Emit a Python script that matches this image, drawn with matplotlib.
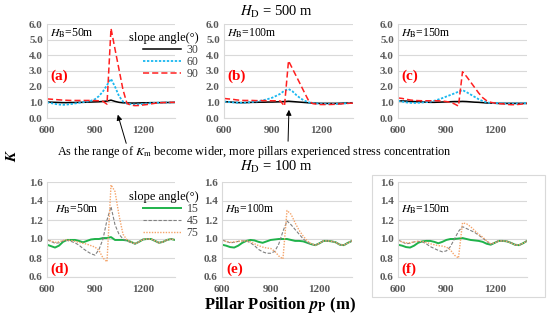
import matplotlib
matplotlib.use('Agg')
import matplotlib.pyplot as plt
from matplotlib.patches import Rectangle, FancyArrowPatch

plt.rcParams['font.family'] = ['Liberation Serif', 'DejaVu Serif']
plt.rcParams['mathtext.fontset'] = 'stix'

# pillar positions (m), one value every 25 m
positions = list(range(600, 1401, 25))

# H_D = 500 m, slope angles 30 / 60 / 90
a_30 = [1.02, 1.01, 1.0, 0.99, 0.98, 0.98, 0.99, 0.99, 1.0, 1.0, 1.01, 1.02, 1.03, 1.04, 1.06, 1.08, 1.14,
        1.06, 1.0, 0.97, 0.96, 0.95, 0.95, 0.96, 0.97, 0.97, 0.98, 0.98, 0.98, 0.99, 0.99, 0.99, 1.0]
a_60 = [1.0, 0.95, 0.9, 0.86, 0.84, 0.86, 0.89, 0.93, 0.97, 1.01, 1.05, 1.1, 1.2, 1.4, 1.7, 2.1, 2.5,
        2.0, 1.4, 1.05, 0.92, 0.88, 0.86, 0.87, 0.9, 0.92, 0.95, 0.97, 0.98, 0.98, 0.99, 0.99, 1.0]
a_90 = [1.22, 1.2, 1.18, 1.16, 1.14, 1.13, 1.12, 1.12, 1.12, 1.12, 1.12, 1.12, 1.11, 1.1, 1.06, 0.88, 5.72,
        4.4, 3.1, 1.8, 0.92, 0.82, 0.79, 0.8, 0.83, 0.86, 0.9, 0.94, 0.97, 0.98, 0.99, 1.0, 1.0]

b_30 = [1.05, 1.03, 1.01, 0.99, 0.98, 0.98, 0.99, 1.0, 1.0, 1.01, 1.01, 1.02, 1.02, 1.03, 1.04, 1.05, 1.07,
        1.05, 1.03, 1.01, 0.99, 0.97, 0.95, 0.94, 0.93, 0.93, 0.93, 0.93, 0.93, 0.94, 0.95, 0.96, 0.97]
b_60 = [1.05, 1.02, 1.0, 0.98, 0.97, 0.98, 0.99, 1.02, 1.05, 1.1, 1.15, 1.22, 1.3, 1.42, 1.55, 1.75, 1.85,
        1.7, 1.45, 1.25, 1.1, 1.0, 0.95, 0.93, 0.92, 0.91, 0.9, 0.9, 0.9, 0.91, 0.93, 0.95, 0.97]
b_90 = [1.25, 1.22, 1.2, 1.16, 1.13, 1.12, 1.12, 1.12, 1.11, 1.11, 1.11, 1.1, 1.1, 1.1, 1.08, 0.76, 3.65,
        3.14, 2.63, 2.12, 1.6, 1.1, 0.92, 0.88, 0.86, 0.86, 0.86, 0.87, 0.88, 0.9, 0.92, 0.94, 0.95]

c_30 = [1.1, 1.09, 1.08, 1.06, 1.05, 1.04, 1.03, 1.01, 1.0, 1.0, 1.01, 1.02, 1.03, 1.04, 1.05, 1.05, 1.06,
        1.05, 1.03, 1.01, 1.0, 0.98, 0.96, 0.95, 0.94, 0.93, 0.93, 0.93, 0.93, 0.93, 0.93, 0.93, 0.93]
c_60 = [1.1, 1.05, 1.0, 0.97, 0.96, 0.97, 0.99, 1.01, 1.04, 1.1, 1.18, 1.27, 1.37, 1.47, 1.57, 1.68, 1.78,
        1.65, 1.5, 1.35, 1.2, 1.08, 1.0, 0.96, 0.95, 0.94, 0.93, 0.93, 0.92, 0.92, 0.93, 0.94, 0.95]
c_90 = [1.28, 1.25, 1.2, 1.15, 1.12, 1.11, 1.1, 1.1, 1.1, 1.1, 1.1, 1.08, 1.05, 1.0, 0.9, 0.76, 2.95,
        2.65, 2.3, 1.95, 1.6, 1.3, 1.1, 1.0, 0.95, 0.92, 0.9, 0.87, 0.85, 0.85, 0.87, 0.9, 0.93]

# H_D = 100 m, slope angles 15 / 45 / 75
d_15 = [0.94, 0.925, 0.91, 0.93, 0.97, 0.99, 0.99, 0.99, 0.98, 0.965, 0.98, 0.995, 1.0, 1.0, 1.01, 1.01, 1.02,
        0.99, 0.99, 0.99, 0.985, 0.97, 0.95, 0.97, 0.995, 1.0, 1.0, 0.98, 0.96, 0.97, 0.99, 1.0, 0.99]
d_45 = [0.99, 0.975, 0.955, 0.96, 0.98, 0.985, 0.975, 0.96, 0.935, 0.9, 0.87, 0.845, 0.83, 0.89, 1.0, 1.2, 1.34,
        1.15, 1.05, 1.0, 0.98, 0.96, 0.95, 0.97, 0.995, 1.0, 1.0, 0.98, 0.96, 0.97, 0.99, 1.0, 0.99]
d_75 = [0.99, 0.98, 0.965, 0.97, 0.985, 0.99, 0.985, 0.975, 0.965, 0.955, 0.945, 0.93, 0.915, 0.88, 0.8, 0.76, 1.57,
        1.5, 1.25, 1.05, 0.99, 0.97, 0.95, 0.97, 0.995, 1.0, 1.0, 0.98, 0.96, 0.97, 0.99, 1.0, 0.99]

e_15 = [0.94, 0.93, 0.915, 0.91, 0.93, 0.96, 0.98, 0.99, 0.985, 0.97, 0.96, 0.975, 0.99, 0.995, 1.0, 1.0, 1.0,
        0.99, 0.98, 0.98, 0.975, 0.96, 0.945, 0.935, 0.955, 0.98, 0.98, 0.975, 0.965, 0.94, 0.935, 0.96, 0.98]
e_45 = [0.99, 0.975, 0.96, 0.965, 0.975, 0.98, 0.98, 0.96, 0.93, 0.89, 0.865, 0.85, 0.85, 0.87, 0.95, 1.08, 1.19,
        1.15, 1.1, 1.05, 1.0, 0.965, 0.945, 0.935, 0.955, 0.98, 0.98, 0.975, 0.965, 0.94, 0.935, 0.96, 0.98]
e_75 = [0.985, 0.975, 0.965, 0.97, 0.975, 0.98, 0.98, 0.97, 0.95, 0.93, 0.915, 0.905, 0.9, 0.87, 0.82, 0.79, 1.3,
        1.26, 1.17, 1.09, 1.03, 0.98, 0.95, 0.935, 0.955, 0.98, 0.98, 0.975, 0.965, 0.94, 0.935, 0.96, 0.98]

f_15 = [0.94, 0.93, 0.915, 0.91, 0.93, 0.96, 0.975, 0.98, 0.98, 0.97, 0.955, 0.97, 0.99, 1.0, 1.0, 1.005, 1.01,
        1.0, 0.99, 0.985, 0.98, 0.97, 0.95, 0.94, 0.96, 0.98, 0.98, 0.975, 0.96, 0.94, 0.935, 0.955, 0.98]
f_45 = [0.99, 0.97, 0.95, 0.955, 0.97, 0.975, 0.97, 0.95, 0.92, 0.9, 0.88, 0.865, 0.875, 0.92, 1.0, 1.08, 1.13,
        1.11, 1.09, 1.07, 1.04, 1.01, 0.975, 0.945, 0.96, 0.98, 0.98, 0.975, 0.96, 0.94, 0.935, 0.955, 0.98]
f_75 = [0.985, 0.97, 0.96, 0.96, 0.97, 0.975, 0.975, 0.965, 0.95, 0.94, 0.93, 0.925, 0.915, 0.885, 0.83, 0.8, 1.17,
        1.16, 1.13, 1.09, 1.05, 1.02, 0.98, 0.95, 0.96, 0.98, 0.98, 0.975, 0.96, 0.94, 0.935, 0.955, 0.98]

top_labels = ['30', '60', '90']
bottom_labels = ['15', '45', '75']
top_yticks = [0.0, 1.0, 2.0, 3.0, 4.0, 5.0, 6.0]
bottom_yticks = [0.6, 0.8, 1.0, 1.2, 1.4, 1.6]
xticks = [600, 900, 1200]

W, H = 550, 320
fig = plt.figure(figsize=(W / 100, H / 100), dpi=100)


def box(left, top, right, bottom):
    return [left / W, 1 - bottom / H, (right - left) / W, (bottom - top) / H]


top_styles = [dict(color='black', lw=1.1, ls='-'),
              dict(color='#1ab8f0', lw=1.3, ls=(0, (1.3, 0.9))),
              dict(color='#ff2020', lw=1.1, ls=(0, (4, 2)))]
bottom_styles = [dict(color='#1fb24a', lw=1.4, ls='-'),
                 dict(color='#808080', lw=0.8, ls=(0, (3, 1.5))),
                 dict(color='#f5a46a', lw=1.0, ls=(0, (1, 1)))]


def setup(ax, yticks):
    ax.set_xlim(600, 1400)
    ax.set_ylim(yticks[0], yticks[-1])
    ax.set_yticks(yticks)
    ax.set_yticklabels(['%.1f' % v for v in yticks], fontweight='bold')
    ax.set_xticks(xticks)
    ax.set_xticklabels([str(v) for v in xticks], fontweight='bold')
    ax.grid(axis='y', color='#d9d9d9', lw=0.8)
    ax.set_axisbelow(True)
    for s in ['top', 'right']:
        ax.spines[s].set_visible(False)
    ax.spines['left'].set_color('#d9d9d9')
    ax.spines['bottom'].set_color('#d9d9d9')
    ax.tick_params(length=0, labelsize=8, labelcolor='#595959', pad=3)
    ax.tick_params(axis='x', pad=6)


panels = [
    (box(47, 24, 175, 118), [a_30, a_60, a_90], top_styles, top_labels, top_yticks, '50', '(a)'),
    (box(224, 24, 353, 118), [b_30, b_60, b_90], top_styles, top_labels, top_yticks, '100', '(b)'),
    (box(398, 24, 527, 118), [c_30, c_60, c_90], top_styles, top_labels, top_yticks, '150', '(c)'),
    (box(47, 182, 175, 277), [d_15, d_45, d_75], bottom_styles, bottom_labels, bottom_yticks, '50', '(d)'),
    (box(222, 182, 352, 277), [e_15, e_45, e_75], bottom_styles, bottom_labels, bottom_yticks, '100', '(e)'),
    (box(398, 182, 527, 277), [f_15, f_45, f_75], bottom_styles, bottom_labels, bottom_yticks, '150', '(f)'),
]

axes = []
for i, (rect, series, styles, labels, yticks, hb, tag) in enumerate(panels):
    ax = fig.add_axes(rect)
    setup(ax, yticks)
    for vals, st, lab in zip(series, styles, labels):
        ax.plot(positions, vals, label=lab, **st)
    if i < 3:
        ax.text(0.02, 0.87, r'$H_{\rm B}$=%sm' % hb, transform=ax.transAxes, fontsize=8.5)
        ax.text(0.03, 0.44, tag, transform=ax.transAxes, fontsize=11, color='red',
                fontweight='bold', va='center')
    else:
        ax.text(0.02 if i > 3 else 0.06, 0.68, r'$H_{\rm B}$=%sm' % hb, transform=ax.transAxes, fontsize=8.5)
        ax.text(0.03, 0.08, tag, transform=ax.transAxes, fontsize=11, color='red',
                fontweight='bold', va='center')
    axes.append(ax)

for ax, ytop in [(axes[0], 1 - 26 / H), (axes[3], 1 - 185 / H)]:
    leg = ax.legend(loc='upper left', bbox_to_anchor=(123 / W, ytop), bbox_transform=fig.transFigure,
                    frameon=False, title='slope angle(°)', fontsize=8.5, title_fontsize=9,
                    handlelength=3.2, handletextpad=0.5, labelspacing=0.0, borderpad=0,
                    alignment='right')
    for t in leg.get_texts():
        t.set_color('#404040')

# light frame around panel (f)
fig.patches.append(Rectangle((372 / W, 1 - 297 / H), 173 / W, 122 / H, transform=fig.transFigure,
                             fill=False, ec='#d9d9d9', lw=0.8))

fig.text(277 / W, 1 - 12 / H, r'$H_{\rm D}$ = 500 m', ha='center', va='center', fontsize=10.5)
fig.text(277 / W, 1 - 167 / H, r'$H_{\rm D}$ = 100 m', ha='center', va='center', fontsize=10.5)
fig.text(254 / W, 1 - 151.5 / H,
         r'As the range of $K_{\rm m}$ become wider, more pillars experienced stress concentration',
         ha='center', va='center', fontsize=8.8)
fig.text(12 / W, 1 - 155 / H, r'$\boldsymbol{K}$', rotation=90, ha='center', va='center', fontsize=11)
fig.text(280 / W, 1 - 305 / H, r'Pillar Position $\boldsymbol{p}_{\mathbf{P}}$ (m)', ha='center',
         va='center', fontsize=12, fontweight='bold')

for tail, head in [((127, 146), (117, 112)), ((288, 144), (289, 107))]:
    fig.add_artist(FancyArrowPatch(
        (tail[0] / W, 1 - tail[1] / H), (head[0] / W, 1 - head[1] / H), transform=fig.transFigure,
        arrowstyle='-|>', mutation_scale=8, color='black', lw=0.7))

fig.savefig('out.png', dpi=100)
